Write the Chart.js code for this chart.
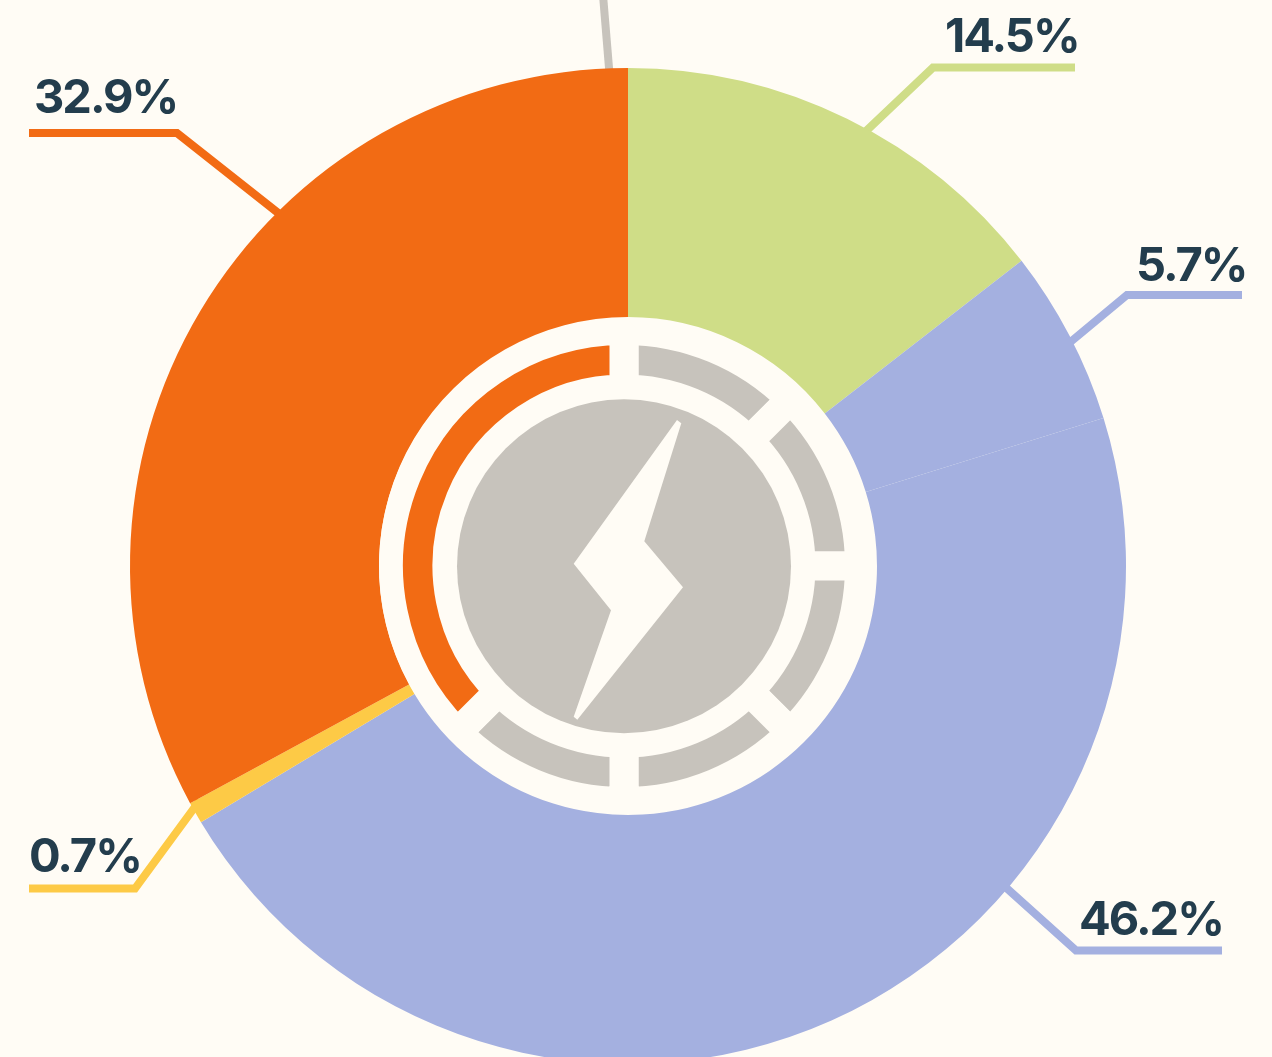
<!DOCTYPE html>
<html><head><meta charset="utf-8">
<script src="https://cdn.jsdelivr.net/npm/chart.js@4/dist/chart.umd.js"></script>
<style>
html,body{margin:0;padding:0;width:1272px;height:1057px;overflow:hidden;background:#FFFCF5}
#wrap{position:relative;width:1272px;height:1057px;overflow:hidden}
#main{position:absolute;left:0;top:0}
#gauge{position:absolute;left:374px;top:316px;clip-path:circle(245px at 250px 250px)}
</style></head><body>
<div id="wrap">
<canvas id="main" width="1272" height="1200" style="width:1272px;height:1200px"></canvas>
<canvas id="gauge" width="500" height="500" style="width:500px;height:500px"></canvas>
</div>
<script>
const categories=['Green','Light blue','Blue','Yellow','Orange'];
const values=[14.5,5.7,46.2,0.7,32.9];
const colors=['#CFDD87','#A4B0E0','#A4B0E0','#FDCA46','#F26B14'];
const gaugeValues=[1,1,1,1,1,3];
const gaugeColors=['#C7C3BC','#C7C3BC','#C7C3BC','#C7C3BC','#C7C3BC','#F26B14'];
const BG='#FFFCF5', INK='#233D4D', GREY='#C7C3BC';

const leaders=[
 {i:0,text:true,x:945,y:52,pts:[[864,133],[933,67.5],[1075,67.5]]},
 {i:1,text:true,x:1136,y:281,pts:[[1068,344],[1127,295],[1242,295]]},
 {i:2,text:true,x:1079,y:935,pts:[[1002,884],[1076,950.5],[1222,950.5]]},
 {i:3,text:true,x:29,y:872,pts:[[200,800],[135,888.5],[29,888.5]]},
 {i:4,text:true,x:34,y:113,pts:[[282,216],[177,133],[29,133]]},
 {color:GREY,pts:[[610,80],[603,-5]]}
];

const leaderPlugin={id:'leaders',
 beforeDatasetsDraw(c){const x=c.ctx;x.save();x.lineCap='butt';x.lineJoin='miter';
  leaders.forEach(l=>{x.strokeStyle=l.color||colors[l.i];x.lineWidth=8;x.beginPath();
   l.pts.forEach((p,k)=>k?x.lineTo(p[0],p[1]):x.moveTo(p[0],p[1]));x.stroke();});
  x.restore();},
 afterDatasetsDraw(c){const x=c.ctx;x.save();x.fillStyle=INK;x.font='700 47px Inter';x.letterSpacing='-2px';x.textAlign='left';x.textBaseline='alphabetic';
  leaders.filter(l=>l.text).forEach(l=>x.fillText(values[l.i].toFixed(1)+'%',l.x,l.y));x.restore();}
};

new Chart(document.getElementById('main'),{type:'doughnut',
 data:{labels:categories,datasets:[{data:values,backgroundColor:colors,borderWidth:0,hoverBorderWidth:0}]},
 options:{responsive:false,animation:false,cutout:249,
  layout:{padding:{left:130,right:146,top:68,bottom:136}},
  plugins:{legend:{display:false},tooltip:{enabled:false}}},
 plugins:[leaderPlugin]});

const bolt=[[677,420],[681.3,423.3],[644.3,541.3],[683,587.3],[577.3,719.7],[573.7,716.7],[611,610.3],[573.7,563.7]];
const hubPlugin={id:'hub',afterDatasetsDraw(c){const x=c.ctx;x.save();
  x.fillStyle=GREY;x.beginPath();x.arc(250,250.3,167,0,Math.PI*2);x.fill();
  x.fillStyle=BG;x.beginPath();bolt.forEach((p,k)=>k?x.lineTo(p[0]-374,p[1]-316):x.moveTo(p[0]-374,p[1]-316));x.closePath();x.fill();
  x.restore();}};

new Chart(document.getElementById('gauge'),{type:'doughnut',
 data:{labels:gaugeValues.map((_,i)=>'Part '+(i+1)),datasets:[{data:gaugeValues,backgroundColor:gaugeColors,borderColor:BG,borderWidth:29,borderAlign:'center',hoverBorderWidth:29}]},
 options:{responsive:false,animation:false,cutout:177,
  layout:{padding:0},plugins:{legend:{display:false},tooltip:{enabled:false}}},
 plugins:[hubPlugin]});
</script></body></html>
